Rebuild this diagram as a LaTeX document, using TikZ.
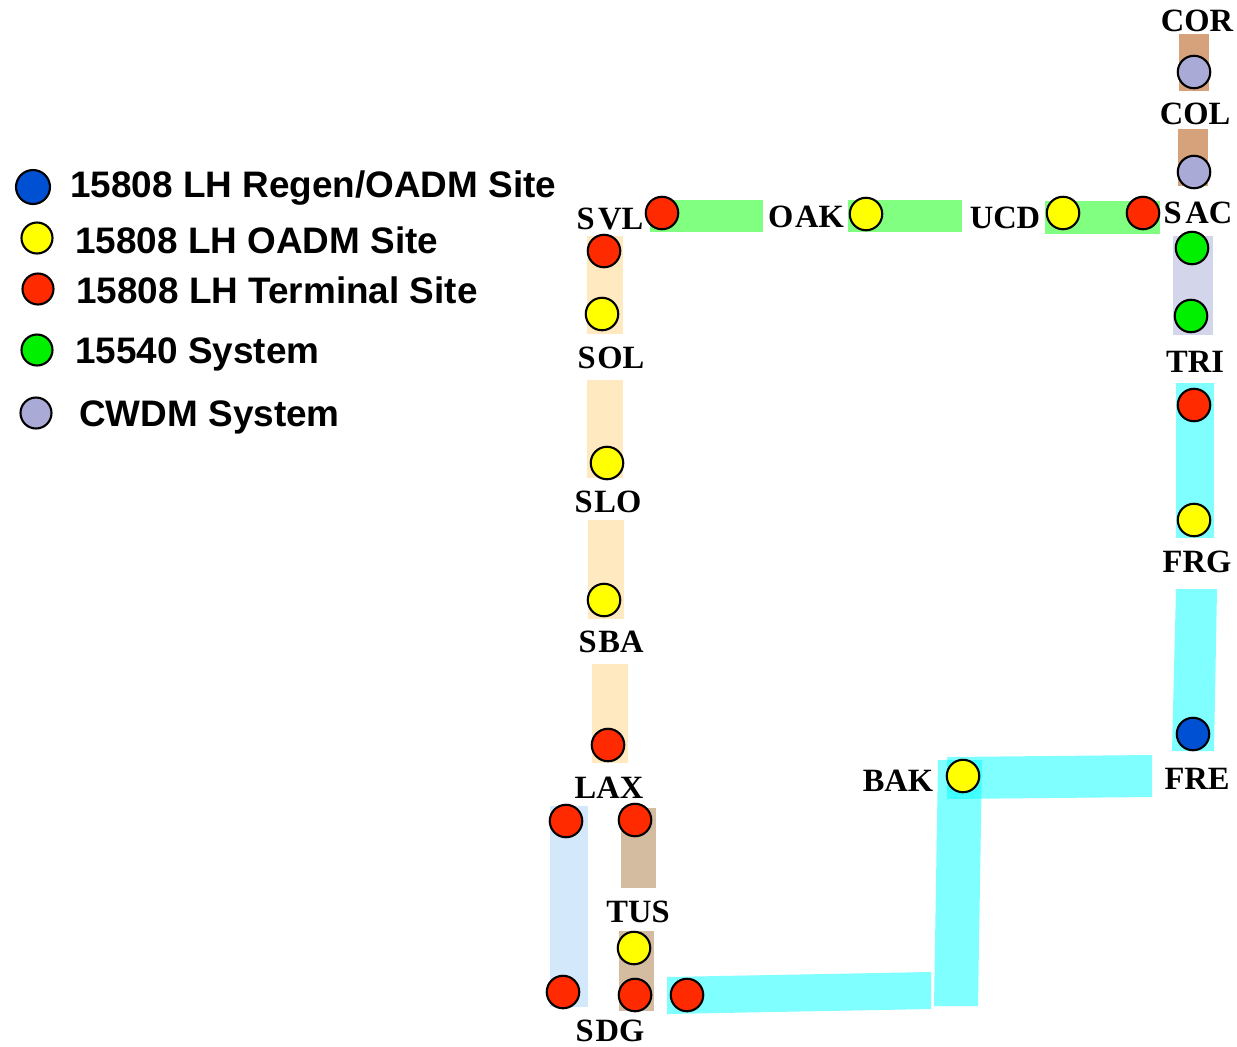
\documentclass[tikz,border=0pt]{standalone}
\usepackage{fontspec}
\setmainfont{Liberation Serif}
\newfontfamily\legendfont{Liberation Sans}
\usepackage{tikz}
\usetikzlibrary{positioning}

\definecolor{termred}{HTML}{FF2A00}
\definecolor{oadmyellow}{HTML}{FFFF00}
\definecolor{regenblue}{HTML}{0050D4}
\definecolor{sysgreen}{HTML}{00F000}
\definecolor{cwdmlav}{HTML}{AAAAD6}
\definecolor{barpeach}{HTML}{FFE9C0}
\definecolor{barcopper}{HTML}{D6A27C}
\definecolor{bartan}{HTML}{D3BC9F}
\definecolor{barsky}{HTML}{D4E8FC}
\definecolor{barlav}{HTML}{D3D5EB}
\definecolor{bargreen}{HTML}{80FF80}
\definecolor{barcyan}{HTML}{00FFFF}

\begin{document}
\begin{tikzpicture}[
      x=0.02cm, y=-0.02cm,
      site/.style={circle, draw=black, line width=1.2pt, minimum size=0.65cm, inner sep=0pt},
      termsite/.style={site, fill=termred},
      oadmsite/.style={site, fill=oadmyellow},
      regensite/.style={site, fill=regenblue},
      greensite/.style={site, fill=sysgreen},
      cwdmsite/.style={site, fill=cwdmlav},
      keysite/.style={site, minimum size=0.62cm},
      sitename/.style={font=\bfseries\fontsize{18.5}{20}\selectfont, inner sep=0pt},
      legendtext/.style={font=\legendfont\bfseries\fontsize{21}{24}\selectfont, anchor=west, inner sep=0pt},
      hilite/.style={fill=barcyan, fill opacity=0.5},
  ]
      \useasboundingbox (0,0) rectangle (1237,1046);

      % --- legenda ---
      \node[keysite, fill=regenblue, minimum size=0.68cm] (kregen) at (33,187) {};
      \node[keysite, fill=oadmyellow] (koadm) at (37,238) {};
      \node[keysite, fill=termred] (kterm) at (38,289) {};
      \node[keysite, fill=sysgreen] (kgreen) at (37,350) {};
      \node[keysite, fill=cwdmlav] (kcwdm) at (36,413) {};
      \node[legendtext] (tregen) at (70,188) {15808 LH Regen/OADM Site};
      \node[legendtext] (toadm) at (75,240) {15808 LH OADM Site};
      \node[legendtext] (tterm) at (76,290) {15808 LH Terminal Site};
      \node[legendtext] (tgreen) at (75,354) {15540 System};
      \node[legendtext] (tcwdm) at (79,417) {CWDM System};

      % --- barras (ligacoes) ---
      \fill[barcopper] (1179,34) rectangle (1209,91);
      \fill[barcopper] (1178,129) rectangle (1208,186);
      \fill[bargreen] (650,200) rectangle (763,232);
      \fill[bargreen] (848,200) rectangle (962,232);
      \fill[bargreen] (1045,201) rectangle (1160,234);
      \fill[barlav] (1173,236) rectangle (1213,335);
      \fill[barpeach] (587,236) rectangle (623,334);
      \fill[barpeach] (587,380) rectangle (623,478);
      \fill[barpeach] (588,520) rectangle (624,619);
      \fill[barpeach] (592,664) rectangle (628,763);
      \fill[barsky] (550,806) rectangle (588,1007);
      \fill[bartan] (621,808) rectangle (656,888);
      \fill[bartan] (619,931) rectangle (654,1011);

      % trecho sul (ciano)
      \fill[hilite] (1176,383) rectangle (1214,538);
      \fill[hilite] (1176,589) -- (1217,589) -- (1214,751) -- (1172,751) -- cycle;
      \fill[hilite] (947,757) -- (1152,755) -- (1152,797) -- (947,799) -- cycle;
      \fill[hilite] (938,760) -- (982,760) -- (978,1006) -- (934,1006) -- cycle;
      \fill[hilite] (667,977) -- (931,972) -- (931,1009) -- (667,1014) -- cycle;

      % --- sites ---
      \node[cwdmsite] (cor) at (1194,72) {};
      \node[cwdmsite] (col) at (1194,172) {};
      \node[termsite] (svl) at (662,213) {};
      \node[oadmsite] (oak) at (866,214) {};
      \node[oadmsite] (ucd) at (1063,213) {};
      \node[termsite] (sac) at (1143,213) {};
      \node[termsite] (svlb) at (604,251) {};
      \node[oadmsite] (sol) at (602,314) {};
      \node[greensite] (sacb) at (1192,248) {};
      \node[greensite] (tri) at (1191,316) {};
      \node[oadmsite] (slo) at (607,463) {};
      \node[oadmsite] (sba) at (604,600) {};
      \node[termsite] (lax) at (608,745) {};
      \node[termsite] (trib) at (1194,405) {};
      \node[oadmsite] (frg) at (1194,520) {};
      \node[regensite] (fre) at (1193,734) {};
      \node[oadmsite] (bak) at (963,776) {};
      \node[termsite] (laxw) at (566,821) {};
      \node[termsite] (laxe) at (635,820) {};
      \node[oadmsite] (tus) at (634,948) {};
      \node[termsite] (sdgw) at (563,992) {};
      \node[termsite] (sdgm) at (635,995) {};
      \node[termsite] (sdge) at (687,995) {};

      % --- nomes ---
      \node[sitename] (ncor) at (1197,21) {COR};
      \node[sitename] (ncol) at (1195,114) {COL};
      \node[sitename] (nsvl) at (610,219) {S\kern2pt VL};
      \node[sitename] (noak) at (806,217) {O\kern1pt AK};
      \node[sitename] (nucd) at (1005,218) {UCD};
      \node[sitename] (nsac) at (1198,213) {S\kern2pt AC};
      \node[sitename] (nsol) at (611,358) {S\kern1pt OL};
      \node[sitename] (ntri) at (1195,362) {TRI};
      \node[sitename] (nslo) at (608,502) {S\kern1pt LO};
      \node[sitename] (nfrg) at (1197,562) {FRG};
      \node[sitename] (nsba) at (611,642) {S\kern1pt BA};
      \node[sitename] (nlax) at (609,788) {LAX};
      \node[sitename] (nbak) at (898,781) {BAK};
      \node[sitename] (nfre) at (1197,779) {FRE};
      \node[sitename] (ntus) at (638,912) {TUS};
      \node[sitename] (nsdg) at (610,1031) {S\kern1pt DG};

  \end{tikzpicture}
\end{document}
